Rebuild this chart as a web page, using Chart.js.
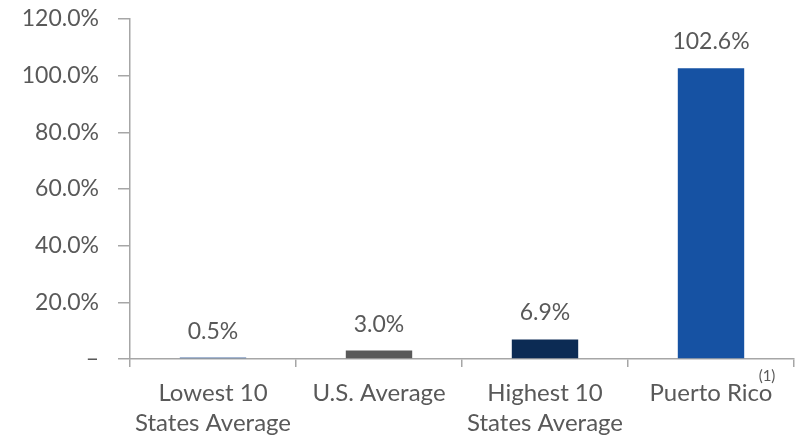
<!DOCTYPE html>
<html>
<head>
<meta charset="utf-8">
<script src="https://cdn.jsdelivr.net/npm/chart.js@4"></script>
<style>
  html, body { margin: 0; padding: 0; background: #fff; }
  #myChart { display: block; }
</style>
</head>
<body>
<canvas id="myChart" width="800" height="438"></canvas>
<script>
const categories = [['Lowest 10', 'States Average'], 'U.S. Average', ['Highest 10', 'States Average'], 'Puerto Rico'];
const values = [0.5, 3.0, 6.9, 102.6];
const barColors = ['#4a6fa5', '#595959', '#0c2b54', '#1652a3'];
const yTicks = [0, 20, 40, 60, 80, 100, 120];
const footnotes = ['', '', '', '(1)'];

const textColor = '#595959';
const axisColor = '#a6a6a6';
const fontFamily = 'Lato, "Open Sans", sans-serif';

// value labels above each bar plus the footnote marker
const barLabels = {
    id: 'barLabels',
    afterDatasetsDraw(chart) {
        const c = chart.ctx;
        const meta = chart.getDatasetMeta(0);
        c.save();
        c.fillStyle = textColor;
        c.textAlign = 'center';
        c.textBaseline = 'alphabetic';
        c.font = '23px ' + fontFamily;
        meta.data.forEach((bar, i) => {
            c.fillText(values[i].toFixed(1) + '%', bar.x, bar.y - 19);
        });
        c.font = '15px ' + fontFamily;
        c.textBaseline = 'middle';
        const xScale = chart.scales.x;
        footnotes.forEach((f, i) => {
            if (!f) return;
            c.fillText(f, xScale.getPixelForValue(i) + 56, xScale.top + 17);
        });
        c.restore();
    }
};

const ctx = document.getElementById('myChart');
new Chart(ctx, {
    type: 'bar',
    data: {
        labels: categories,
        datasets: [{
            data: values,
            backgroundColor: barColors,
            categoryPercentage: 0.8,
            barPercentage: 0.5
        }]
    },
    plugins: [barLabels],
    options: {
        responsive: false,
        animation: false,
        layout: { padding: { top: 19, right: 6, bottom: 0, left: 0 } },
        plugins: {
            legend: { display: false },
            tooltip: { enabled: false }
        },
        scales: {
            x: {
                offset: true,
                border: { color: axisColor, width: 1.5 },
                grid: {
                    offset: true,
                    drawOnChartArea: false,
                    color: axisColor,
                    tickLength: 8,
                    lineWidth: 1.5
                },
                ticks: {
                    color: textColor,
                    font: { family: fontFamily, size: 24, lineHeight: 1.25 },
                    maxRotation: 0,
                    padding: 11
                },
                afterFit(scale) {
                    scale.height = 79;
                    scale.paddingLeft = 0;
                    scale.paddingRight = 0;
                }
            },
            y: {
                min: 0,
                max: 120,
                border: { color: axisColor, width: 1.5 },
                grid: {
                    drawOnChartArea: false,
                    color: axisColor,
                    tickLength: 12,
                    lineWidth: 1.5
                },
                afterBuildTicks(scale) {
                    scale.ticks = yTicks.map(v => ({ value: v }));
                },
                ticks: {
                    color: textColor,
                    font: { family: fontFamily, size: 23 },
                    padding: 19,
                    callback: v => v === 0 ? '–' : v.toFixed(1) + '%'
                },
                afterFit(scale) {
                    scale.width = 130;
                    scale.paddingTop = 0;
                    scale.paddingBottom = 0;
                }
            }
        }
    }
});
</script>
</body>
</html>
